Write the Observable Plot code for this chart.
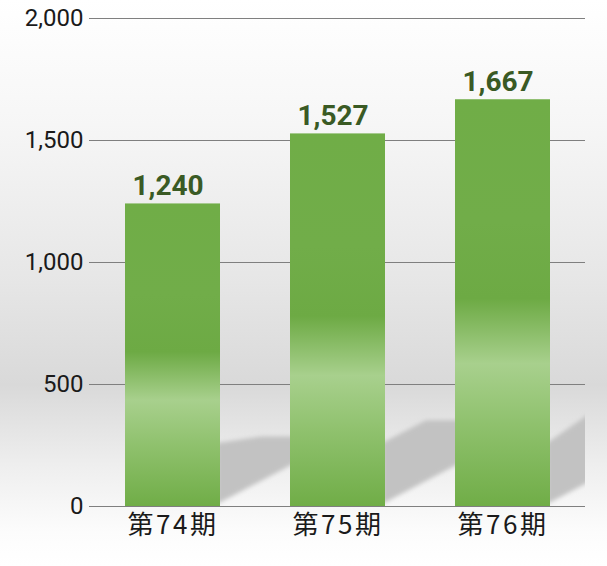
<!DOCTYPE html>
<html><head><meta charset="utf-8">
<script src="https://cdn.jsdelivr.net/npm/d3@7"></script>
<script src="https://cdn.jsdelivr.net/npm/@observablehq/plot@0.6"></script>
<style>
html,body{margin:0;padding:0;background:#fff;}
#chart svg{display:block;}
</style></head><body><div id="chart"></div>
<script>
const categories = ["第74期", "第75期", "第76期"];
const values = [1240, 1527, 1667];
const yTicks = [0, 500, 1000, 1500, 2000];
const data = categories.map((c, i) => ({period: c, value: values[i]}));

const W = 607, H = 566, ML = 89, MR = 22, MT = 18, MB = 60;
const fmt = d3.format(",");

function defsMark() {
  const g = d3.create("svg:g");
  const defs = g.append("defs");
  const lg = defs.append("linearGradient").attr("id", "barGrad")
    .attr("x1", 0).attr("y1", 0).attr("x2", 0).attr("y2", 1);
  [[0, "#70ad47"], [0.3, "#71ad49"], [0.49, "#6daa44"], [0.65, "#a8d08d"], [0.8, "#8fc16d"], [1, "#70ad47"]]
    .forEach(([o, c]) => lg.append("stop").attr("offset", o).attr("stop-color", c));
  const f = defs.append("filter").attr("id", "shBlur").attr("x", "-20%").attr("y", "-20%").attr("width", "140%").attr("height", "140%");
  f.append("feGaussianBlur").attr("stdDeviation", 2.2);
  defs.append("clipPath").attr("id", "plotClip").append("rect")
    .attr("x", ML).attr("y", MT).attr("width", W - ML - MR).attr("height", H - MT - MB);
  return g.node();
}

function shadowMark(index, scales) {
  const x = scales.x, y = scales.y;
  const bw = x.bandwidth ? x.bandwidth() : 95;
  const y0 = y(0);
  const g = d3.create("svg:g").attr("clip-path", "url(#plotClip)");
  data.forEach(d => {
    const xR = x(d.period) + bw;
    const h = y0 - y(d.value);
    const T = y0 - 0.23 * h;
    const L = 140;
    const pts = [
      [xR - 3, y0 - 2],
      [xR - 3, y0 - 63],
      [xR + 41, T],
      [xR + L, T],
      [xR + L, y0 - 3 - 0.53 * L]
    ];
    g.append("path").attr("d", "M" + pts.map(p => p.join(",")).join("L") + "Z")
      .attr("fill", "#c2c2c2").attr("filter", "url(#shBlur)");
  });
  return g.node();
}

const chart = Plot.plot({
  width: W, height: H,
  marginLeft: ML, marginRight: MR, marginTop: MT, marginBottom: MB,
  style: {background: "linear-gradient(to bottom, #ffffff 0%, #f6f6f6 22%, #e6e6e6 50%, #d9d9d9 68%, #eeeeee 82%, #fcfcfc 94%, #ffffff 100%)", overflow: "visible"},
  x: {domain: categories, paddingInner: 0.425, paddingOuter: 0.2125, label: null, tickSize: 0, tickPadding: 9},
  y: {domain: [0, 2000], ticks: yTicks, tickFormat: fmt, label: null, tickSize: 0, tickPadding: 6},
  marks: [
    defsMark,
    Plot.ruleY(yTicks, {stroke: "#7f7f7f", strokeWidth: 1}),
    shadowMark,
    Plot.barY(data, {x: "period", y: "value", fill: "url(#barGrad)"}),
    Plot.ruleY([0], {stroke: "#7f7f7f", strokeWidth: 1.2}),
    Plot.text(data, {x: "period", y: "value", text: d => fmt(d.value), dx: -5, dy: -9, lineAnchor: "bottom",
      fill: "#3a5a24", fontSize: 28, fontWeight: "bold", fontFamily: "Roboto"})
  ]
});
const sel = d3.select(chart);
sel.selectAll('g[aria-label^="y-axis"] text')
  .style("font-family", "Roboto, 'DejaVu Sans', sans-serif").style("font-size", "24px").style("fill", "#1a1a1a");
sel.selectAll('g[aria-label^="x-axis"] text')
  .style("font-family", "'Noto Sans CJK JP', sans-serif").style("font-size", "26px").style("fill", "#1a1a1a")
  .style("letter-spacing", "2.5px");
document.getElementById("chart").appendChild(chart);
</script></body></html>
